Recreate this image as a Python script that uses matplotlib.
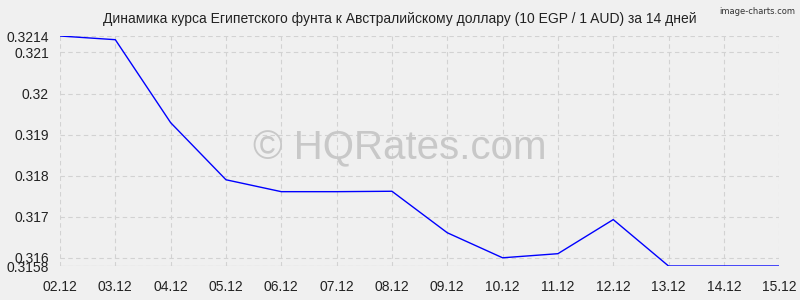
import matplotlib
matplotlib.use("Agg")
import matplotlib.pyplot as plt

dates = ["02.12", "03.12", "04.12", "05.12", "06.12", "07.12", "08.12",
         "09.12", "10.12", "11.12", "12.12", "13.12", "14.12", "15.12"]
values = [0.3214, 0.32131, 0.31929, 0.31790, 0.31761, 0.31761, 0.31762,
          0.31661, 0.31600, 0.31610, 0.31693, 0.3158, 0.3158, 0.3158]
yticks = [0.3158, 0.316, 0.317, 0.318, 0.319, 0.32, 0.321, 0.3214]
ytick_labels = ["0.3158", "0.316", "0.317", "0.318", "0.319", "0.32", "0.321", "0.3214"]

plt.rcParams['font.family'] = ['Liberation Sans', 'DejaVu Sans']
bg = "#f0f0f0"
fig = plt.figure(figsize=(8, 3), dpi=100, facecolor=bg)
ax = fig.add_axes([0.075, 0.1133, 0.899, 0.7667], facecolor=bg)

x = list(range(len(dates)))
ax.plot(x, values, color="#0000ff", lw=1.0, zorder=3)

ax.set_xlim(0, len(dates) - 1)
ax.set_ylim(yticks[0], yticks[-1])
ax.set_xticks(x)
ax.set_xticklabels(dates, fontsize=10, color="#222222")
ax.set_yticks(yticks)
ax.set_yticklabels(ytick_labels, fontsize=10, color="#222222")
ax.tick_params(length=0, pad=8)
ax.tick_params(axis='x', pad=10)
ax.grid(True, color="#d2d2d2", ls=(0, (4, 3)), lw=0.8)
for s in ax.spines.values():
    s.set_visible(False)
ax.axhline(yticks[0], color="#c0c0c0", lw=0.8, zorder=1)

fig.text(0.5, 0.938, "Динамика курса Египетского фунта к Австралийскому доллару (10 EGP / 1 AUD) за 14 дней",
         ha="center", va="center", fontsize=10, color="#222222")
fig.text(0.994, 0.96, "image-charts.com", ha="right", va="center", fontsize=6, color="#333333",
         family="DejaVu Sans")
fig.text(0.5, 0.505, "© HQRates.com", ha="center", va="center", fontsize=29, color="#c8c8c8", zorder=0)

fig.savefig("out.png", dpi=100, facecolor=bg)
